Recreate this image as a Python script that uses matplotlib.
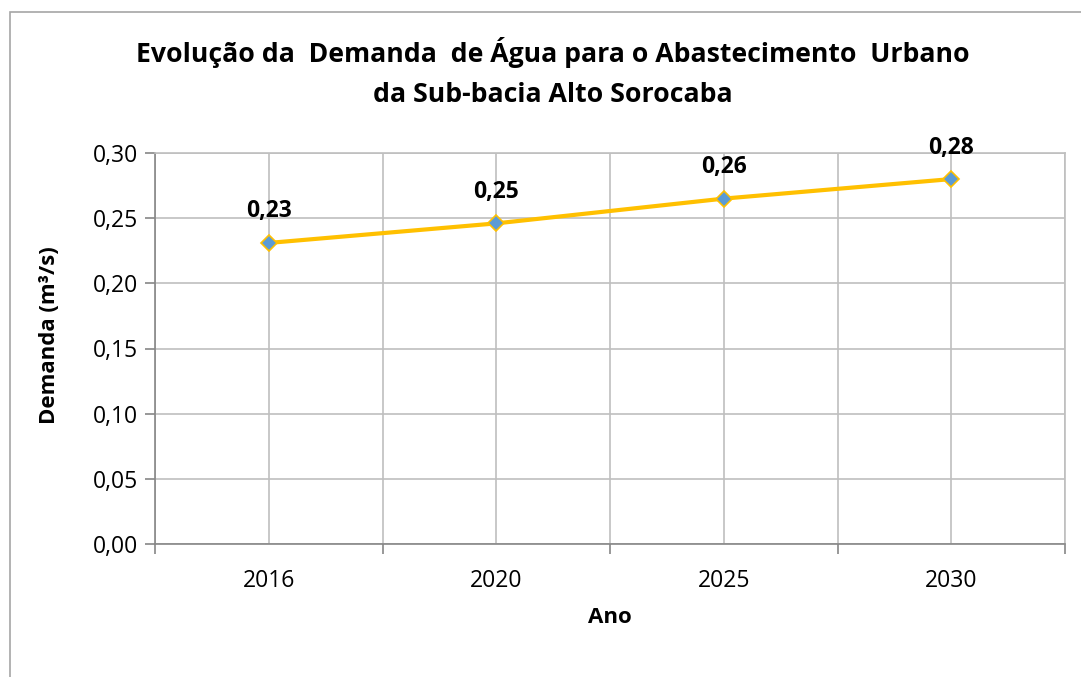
import matplotlib.pyplot as plt
from matplotlib.patches import Rectangle
from matplotlib.ticker import FuncFormatter, FixedLocator

years = ["2016", "2020", "2025", "2030"]
demanda = [0.231, 0.246, 0.265, 0.280]
rotulos = ["0,23", "0,25", "0,26", "0,28"]

plt.rcParams["font.family"] = ["Open Sans", "DejaVu Sans"]

fig = plt.figure(figsize=(10.81, 6.77), dpi=100)
ax = fig.add_axes([155 / 1081, 1 - 544 / 677, 910 / 1081, 391 / 677])

# moldura externa (cortada à direita e embaixo, como no original)
fig.patches.append(Rectangle((10 / 1081, -0.1), 1.2, 1 - 12 / 677 + 0.1,
                             transform=fig.transFigure, fill=False,
                             edgecolor="#A6A6A6", linewidth=1.2))

x = list(range(len(years)))
ax.plot(x, demanda, color="#FFC000", linewidth=3, marker="D", markersize=8,
        markerfacecolor="#5B9BD5", markeredgecolor="#FFC000", markeredgewidth=1.2,
        zorder=3)
for xi, v, lab in zip(x, demanda, rotulos):
    ax.annotate(lab, (xi, v), xytext=(0, 14), textcoords="offset points",
                ha="center", va="bottom", fontsize=16.5, fontweight="bold")

ax.set_xlim(-0.5, len(years) - 0.5)
ax.set_ylim(0, 0.30)
ax.set_yticks([0, 0.05, 0.10, 0.15, 0.20, 0.25, 0.30])
ax.yaxis.set_major_formatter(FuncFormatter(lambda v, p: f"{v:.2f}".replace(".", ",")))
ax.set_xticks(x, years)
ax.xaxis.set_minor_locator(FixedLocator([i - 0.5 for i in range(len(years) + 1)]))
ax.tick_params(axis="x", which="major", length=0, pad=18, labelsize=16.5)
ax.tick_params(axis="x", which="minor", length=7, color="#868686", width=1.2)
ax.tick_params(axis="y", length=7, color="#868686", width=1.2, labelsize=16.5, pad=5)

ax.grid(True, which="both", color="#BFBFBF", linewidth=1.2)
ax.set_axisbelow(True)
for side in ["top", "right"]:
    ax.spines[side].set_color("#BFBFBF")
    ax.spines[side].set_linewidth(1.2)
for side in ["left", "bottom"]:
    ax.spines[side].set_color("#868686")
    ax.spines[side].set_linewidth(1.2)

ax.set_xlabel("Ano", fontsize=16, fontweight="bold", labelpad=10)
ax.set_ylabel("Demanda (m³/s)", fontsize=16, fontweight="bold")
ax.yaxis.set_label_coords((60 - 155) / 910, (544 - 335) / 391)
fig.text(553 / 1081, 1 - 72 / 677,
         "Evolução da  Demanda  de Água para o Abastecimento  Urbano\nda Sub-bacia Alto Sorocaba",
         ha="center", va="center", fontsize=19.2, fontweight="bold", linespacing=1.7)

fig.savefig("out.png", dpi=100, facecolor="white")
